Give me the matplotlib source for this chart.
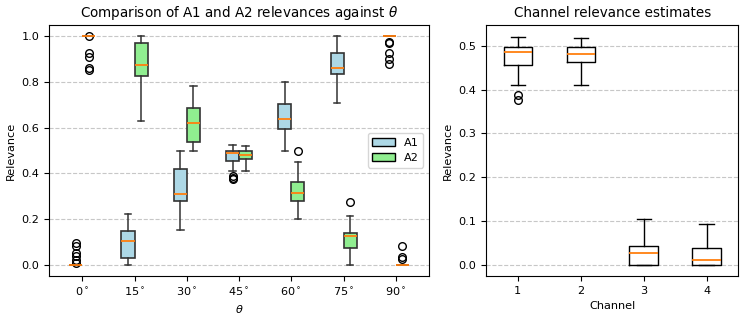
import matplotlib.pyplot as plt
import numpy as np
from matplotlib.patches import Patch

plt.rcParams["font.size"] = 8.1

# angles for the left panel
angles = [0, 15, 30, 45, 60, 75, 90]

# A1 summary stats per angle
a1_med = [0.0, 0.106, 0.309, 0.488, 0.638, 0.859, 1.0]
a1_q1 = [0.0, 0.029, 0.281, 0.455, 0.594, 0.834, 1.0]
a1_q3 = [0.0, 0.148, 0.420, 0.499, 0.702, 0.924, 1.0]
a1_lo = [0.0, 0.0, 0.152, 0.412, 0.499, 0.705, 1.0]
a1_hi = [0.0, 0.224, 0.499, 0.522, 0.798, 1.0, 1.0]
a1_fliers = [
    [0.095, 0.083, 0.05, 0.04, 0.02, 0.01],
    [],
    [],
    [0.39, 0.38, 0.376],
    [],
    [],
    [0.975, 0.968, 0.924, 0.90, 0.876],
]

# A2 summary stats per angle
a2_med = [1.0, 0.873, 0.620, 0.482, 0.316, 0.128, 0.0]
a2_q1 = [1.0, 0.825, 0.537, 0.464, 0.277, 0.076, 0.0]
a2_q3 = [1.0, 0.968, 0.686, 0.499, 0.364, 0.141, 0.0]
a2_lo = [1.0, 0.627, 0.499, 0.412, 0.201, 0.0, 0.0]
a2_hi = [1.0, 1.0, 0.782, 0.520, 0.451, 0.214, 0.0]
a2_fliers = [
    [0.998, 0.924, 0.907, 0.859, 0.852],
    [],
    [],
    [],
    [0.498],
    [0.274],
    [0.083, 0.034, 0.025],
]

# channel relevance estimates (right panel)
channels = [1, 2, 3, 4]
ch_med = [0.485, 0.481, 0.027, 0.011]
ch_q1 = [0.457, 0.463, 0.0, 0.0]
ch_q3 = [0.498, 0.498, 0.043, 0.038]
ch_lo = [0.411, 0.411, 0.0, 0.0]
ch_hi = [0.521, 0.518, 0.104, 0.092]
ch_fliers = [[0.387, 0.377], [], [], []]


def make_stats(med, q1, q3, lo, hi, fl):
    stats = []
    for i in range(len(med)):
        stats.append(
            dict(med=med[i], q1=q1[i], q3=q3[i], whislo=lo[i], whishi=hi[i],
                 fliers=np.array(fl[i]))
        )
    return stats


fig = plt.figure(figsize=(7.47, 3.19), dpi=100)
ax1 = fig.add_axes([0.066, 0.135, 0.508, 0.787])
ax2 = fig.add_axes([0.651, 0.135, 0.337, 0.787])

pos = np.arange(len(angles))
w = 0.25
edge = "#333333"
common = dict(
    widths=w,
    patch_artist=True,
    boxprops=dict(edgecolor=edge, linewidth=1.2),
    whiskerprops=dict(color=edge, linewidth=1.1),
    capprops=dict(color=edge, linewidth=1.1),
    medianprops=dict(color="tab:orange", linewidth=1.3),
    flierprops=dict(marker="o", markerfacecolor="none", markeredgecolor="black",
                    markersize=5.5),
    manage_ticks=False,
)

b1 = ax1.bxp(make_stats(a1_med, a1_q1, a1_q3, a1_lo, a1_hi, a1_fliers),
             positions=pos - w / 2, **common)
b2 = ax1.bxp(make_stats(a2_med, a2_q1, a2_q3, a2_lo, a2_hi, a2_fliers),
             positions=pos + w / 2, **common)
for p in b1["boxes"]:
    p.set_facecolor("lightblue")
for p in b2["boxes"]:
    p.set_facecolor("lightgreen")

ax1.set_xticks(pos)
ax1.set_xticklabels([f"{a}$^\\circ$" for a in angles])
ax1.set_xlim(-0.63, 6.63)
ax1.set_ylim(-0.048, 1.048)
ax1.set_yticks([0.0, 0.2, 0.4, 0.6, 0.8, 1.0])
ax1.set_xlabel(r"$\theta$")
ax1.set_ylabel("Relevance")
ax1.set_title(r"Comparison of A1 and A2 relevances against $\theta$")
ax1.yaxis.grid(True, linestyle="--", alpha=0.7)
ax1.set_axisbelow(True)
ax1.legend(
    handles=[
        Patch(facecolor="lightblue", edgecolor="black", label="A1"),
        Patch(facecolor="lightgreen", edgecolor="black", label="A2"),
    ],
    loc="center right",
)

ax2.bxp(
    make_stats(ch_med, ch_q1, ch_q3, ch_lo, ch_hi, ch_fliers),
    positions=channels,
    widths=0.45,
    medianprops=dict(color="tab:orange", linewidth=1.3),
    flierprops=dict(marker="o", markerfacecolor="none", markeredgecolor="black",
                    markersize=5.5),
    manage_ticks=False,
)
ax2.set_xticks(channels)
ax2.set_xlim(0.5, 4.5)
ax2.set_ylim(-0.026, 0.548)
ax2.set_xlabel("Channel")
ax2.set_ylabel("Relevance")
ax2.set_title("Channel relevance estimates")
ax2.yaxis.grid(True, linestyle="--", alpha=0.7)
ax2.set_axisbelow(True)

fig.savefig("out.png", dpi=100)
